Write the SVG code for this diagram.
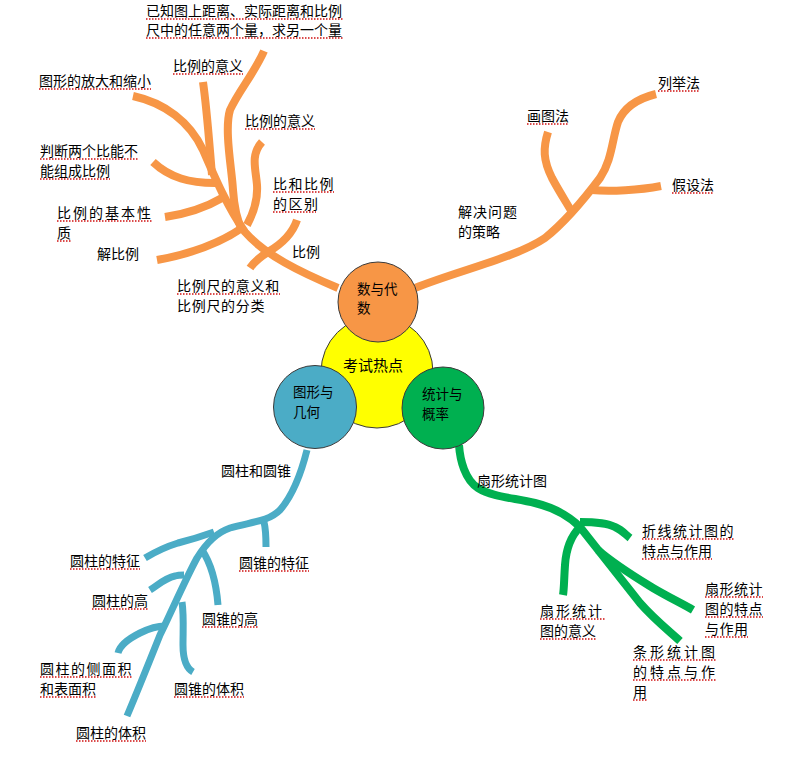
<svg xmlns="http://www.w3.org/2000/svg" width="793" height="766" viewBox="0 0 793 766">
<style>
text{font-family:"Noto Sans CJK SC","Noto Sans",sans-serif;font-size:14px;fill:#000}
.b{fill:none;stroke-linecap:butt;stroke-linejoin:round}
.o{stroke:#F79646;stroke-width:8}
.bl{stroke:#4BACC6;stroke-width:7}
.g{stroke:#00B050;stroke-width:8}
.u{stroke:#D01010;stroke-width:1.5;stroke-dasharray:1.5 1.5;fill:none}
.c{stroke:#3a3a3a;stroke-width:1}
</style>
<rect width="793" height="766" fill="#fff"/>
<g id="connectors" class="b">
<path class="b o" d="M133,96 C165,103 190,122 203,150 C215,178 228,208 245,232 C265,255 300,272 338,288"/>
<path class="b o" d="M264,51 C255,72 238,92 230,110 C224,130 232,170 233,190 C234,205 236,218 242,230"/>
<path class="b o" d="M203,82 C207,110 209,140 212,175"/>
<path class="b o" d="M153,162 C170,178 190,183 215,183"/>
<path class="b o" d="M165,217 C185,214 205,208 222,198"/>
<path class="b o" d="M157,260 C190,254 220,243 242,228"/>
<path class="b o" d="M262,142 C250,155 256,170 257,185 C258,200 254,212 247,225"/>
<path class="b o" d="M297,220 C292,235 280,245 268,252 C260,257 254,262 250,268"/>
<path class="b o" d="M415,288 C460,270 515,258 545,238 C565,222 585,198 600,178 C612,160 612,140 618,122 C625,105 640,98 656,94"/>
<path class="b o" d="M548,132 C543,148 543,160 552,178 C560,193 568,205 573,214"/>
<path class="b o" d="M592,190 C610,192 640,190 661,186"/>
<path class="b bl" d="M307,450 C302,470 293,495 280,510 C268,522 250,522 230,528 C215,533 205,545 197,558 C185,580 170,615 160,635 C150,660 138,690 127,716"/>
<path class="b bl" d="M264,522 C266,530 266,540 266,547"/>
<path class="b bl" d="M145,558 C155,552 165,547 178,543 C190,540 200,537 214,532"/>
<path class="b bl" d="M202,550 C210,562 216,580 218,605"/>
<path class="b bl" d="M150,590 C158,585 165,578 175,576 C178,575 182,575 184,575"/>
<path class="b bl" d="M182,602 C184,615 183,630 183,645 C183,660 186,668 193,672"/>
<path class="b bl" d="M118,653 C120,645 130,638 140,633 C150,628 158,626 165,626"/>
<path class="b g" d="M459,445 C460,460 465,480 478,488 C492,497 515,498 535,503 C555,508 568,515 580,527 C600,552 620,578 640,603 C655,620 668,630 680,641"/>
<path class="b g" d="M598,550 C615,565 640,580 653,588 C670,598 683,604 693,610"/>
<path class="b g" d="M580,522 C590,522 605,522 615,527 C622,530 626,535 630,538"/>
<path class="b g" d="M580,527 C570,537 566,550 565,565 C564,580 564,590 563,595"/>
</g>
<g id="node-center"><circle class="c" cx="377" cy="372" r="56" fill="#FFFF00"/><text x="343" y="371" style="font-size:15px">考试热点</text></g>
<g id="node-algebra"><circle class="c" cx="378" cy="302" r="40" fill="#F79646"/><text x="357" y="294" style="font-size:13.5px">数与代</text><text x="357" y="313" style="font-size:13.5px">数</text></g>
<g id="node-geometry"><circle class="c" cx="315" cy="407" r="41.5" fill="#4BACC6"/><text x="293" y="397" style="font-size:13.5px">图形与</text><text x="293" y="417" style="font-size:13.5px">几何</text></g>
<g id="node-stats"><circle class="c" cx="443" cy="408" r="41" fill="#00B050"/><text x="422" y="399" style="font-size:13.5px">统计与</text><text x="422" y="419" style="font-size:13.5px">概率</text></g>

<g id="n1"><text x="146" y="16">已知图上距离、实际距离和比例</text><line class="u" x1="146" y1="19" x2="344" y2="19"/><text x="146" y="35">尺中的任意两个量，求另一个量</text><line class="u" x1="146" y1="38" x2="344" y2="38"/></g>
<g id="n2"><text x="173" y="71">比例的意义</text><line class="u" x1="173" y1="74" x2="243" y2="74"/></g>
<g id="n3"><text x="39" y="86">图形的放大和缩小</text><line class="u" x1="39" y1="89" x2="151" y2="89"/></g>
<g id="n4"><text x="245" y="126">比例的意义</text><line class="u" x1="245" y1="129" x2="315" y2="129"/></g>
<g id="n5"><text x="40" y="156">判断两个比能不</text><line class="u" x1="40" y1="159" x2="138" y2="159"/><text x="40" y="176">能组成比例</text><line class="u" x1="40" y1="179" x2="110" y2="179"/></g>
<g id="n6"><text x="273" y="189" letter-spacing="1.5">比和比例</text><line class="u" x1="273" y1="192" x2="334" y2="192"/><text x="273" y="209" letter-spacing="1.5">的区别</text><line class="u" x1="273" y1="212" x2="316" y2="212"/></g>
<g id="n7"><text x="57" y="218" letter-spacing="2">比例的基本性</text><line class="u" x1="57" y1="221" x2="152" y2="221"/><text x="57" y="238">质</text><line class="u" x1="57" y1="241" x2="71" y2="241"/></g>
<g id="n8"><text x="97" y="259">解比例</text></g>
<g id="n9"><text x="292" y="257">比例</text></g>
<g id="n10"><text x="177" y="291" letter-spacing="0.7">比例尺的意义和</text><line class="u" x1="177" y1="294" x2="280" y2="294"/><text x="177" y="311" letter-spacing="0.7">比例尺的分类</text></g>
<g id="n11"><text x="658" y="88">列举法</text><line class="u" x1="658" y1="91" x2="700" y2="91"/></g>
<g id="n12"><text x="527" y="121">画图法</text><line class="u" x1="527" y1="124" x2="569" y2="124"/></g>
<g id="n13"><text x="672" y="190">假设法</text><line class="u" x1="672" y1="193" x2="714" y2="193"/></g>
<g id="n14"><text x="458" y="217" letter-spacing="1">解决问题</text><text x="458" y="237">的策略</text></g>
<g id="n15"><text x="221" y="476">圆柱和圆锥</text></g>
<g id="n16"><text x="70" y="566">圆柱的特征</text><line class="u" x1="70" y1="569" x2="140" y2="569"/></g>
<g id="n17"><text x="239" y="568">圆锥的特征</text><line class="u" x1="239" y1="571" x2="309" y2="571"/></g>
<g id="n18"><text x="92" y="606">圆柱的高</text><line class="u" x1="92" y1="609" x2="148" y2="609"/></g>
<g id="n19"><text x="202" y="624">圆锥的高</text><line class="u" x1="202" y1="627" x2="258" y2="627"/></g>
<g id="n20"><text x="40" y="674" letter-spacing="1.5">圆柱的侧面积</text><line class="u" x1="40" y1="677" x2="133" y2="677"/><text x="40" y="694">和表面积</text><line class="u" x1="40" y1="697" x2="96" y2="697"/></g>
<g id="n21"><text x="174" y="694">圆锥的体积</text><line class="u" x1="174" y1="697" x2="244" y2="697"/></g>
<g id="n22"><text x="76" y="738">圆柱的体积</text><line class="u" x1="76" y1="741" x2="146" y2="741"/></g>
<g id="n23"><text x="477" y="486">扇形统计图</text></g>
<g id="n24"><text x="642" y="536" letter-spacing="1.5">折线统计图的</text><line class="u" x1="642" y1="539" x2="735" y2="539"/><text x="642" y="556">特点与作用</text><line class="u" x1="642" y1="559" x2="712" y2="559"/></g>
<g id="n25"><text x="705" y="594" letter-spacing="0.5">扇形统计</text><line class="u" x1="705" y1="597" x2="763" y2="597"/><text x="705" y="614" letter-spacing="0.5">图的特点</text><line class="u" x1="705" y1="617" x2="763" y2="617"/><text x="705" y="634" letter-spacing="0.5">与作用</text><line class="u" x1="705" y1="637" x2="748" y2="637"/></g>
<g id="n26"><text x="540" y="616" letter-spacing="2">扇形统计</text><line class="u" x1="540" y1="619" x2="605" y2="619"/><text x="540" y="636">图的意义</text><line class="u" x1="540" y1="639" x2="596" y2="639"/></g>
<g id="n27"><text x="633" y="657" letter-spacing="3">条形统计图</text><line class="u" x1="633" y1="660" x2="717" y2="660"/><text x="633" y="677" letter-spacing="3">的特点与作</text><line class="u" x1="633" y1="680" x2="717" y2="680"/><text x="633" y="697">用</text><line class="u" x1="633" y1="700" x2="647" y2="700"/></g>
</svg>
